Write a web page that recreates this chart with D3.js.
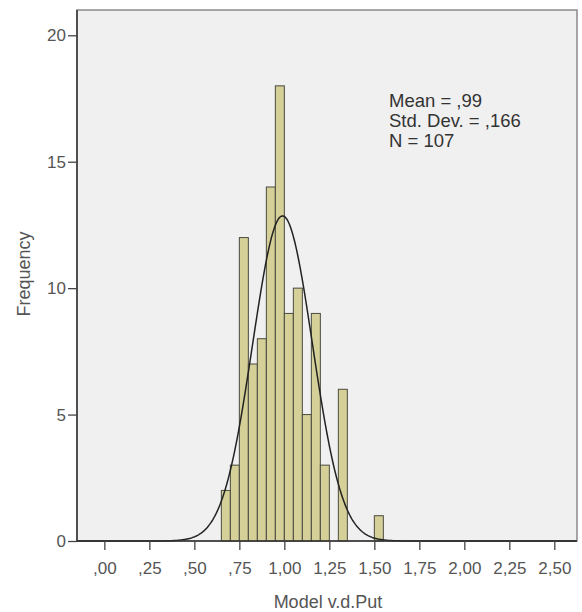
<!DOCTYPE html>
<html lang="en">
<head>
  <meta charset="UTF-8">
  <title>Histogram</title>
  <script src="https://cdn.jsdelivr.net/npm/d3@7"></script>
  <style>
    body { margin: 0; background: #fff; }
    text { font-family: "Liberation Sans", Arial, sans-serif; }
  </style>
</head>
<body>

<script>
  // bins of width 0.05, starting at 0.65
  var binStarts = [0.65, 0.70, 0.75, 0.80, 0.85, 0.90, 0.95, 1.00, 1.05, 1.10, 1.15, 1.20, 1.25, 1.30, 1.35, 1.40, 1.45, 1.50];
  var counts    = [2, 3, 12, 7, 8, 14, 18, 9, 10, 5, 9, 3, 0, 6, 0, 0, 0, 1];
  var binWidth = 0.05;
  var xTicks = [0, 0.25, 0.5, 0.75, 1, 1.25, 1.5, 1.75, 2, 2.25, 2.5];
  var yTicks = [0, 5, 10, 15, 20];
  var mean = 0.99, sd = 0.166, n = 107;
  var statLines = ['Mean = ,99', 'Std. Dev. = ,166', 'N = 107'];

  var width = 582, height = 612;
  // plot frame (note: "top" is reserved on window, so use pTop etc.)
  var pLeft = 77, pRight = 577, pTop = 10, pBottom = 541;

  var svg = d3.select('body').append('svg').attr('width', width).attr('height', height);

  var x = d3.scaleLinear().domain([-0.152, 2.626]).range([pLeft, pRight]);
  var y = d3.scaleLinear().domain([0, 21]).range([pBottom, pTop]);

  // plot background
  svg.append('rect')
    .attr('x', pLeft).attr('y', pTop)
    .attr('width', pRight - pLeft).attr('height', pBottom - pTop)
    .attr('fill', '#f0f0f0')
    .attr('stroke', '#8a8a8a')
    .attr('stroke-width', 1.5);

  var fmt = function(d){
    var s = d3.format('.2f')(d).replace('.', ',');
    return s.indexOf('0,') === 0 ? s.slice(1) : s;
  };

  // bars
  var data = binStarts.map(function(b, i){ return {x0: b, x1: b + binWidth, c: counts[i]}; })
    .filter(function(d){ return d.c > 0; });
  svg.selectAll('rect.bar').data(data).enter().append('rect')
    .attr('class', 'bar')
    .attr('x', function(d){ return x(d.x0); })
    .attr('y', function(d){ return y(d.c); })
    .attr('width', function(d){ return x(d.x1) - x(d.x0); })
    .attr('height', function(d){ return y(0) - y(d.c); })
    .attr('fill', '#d5d097')
    .attr('stroke', '#4a4a40')
    .attr('stroke-width', 1);

  // normal curve
  var pts = d3.range(-0.152, 2.6261, 0.005).map(function(v){
    var z = (v - mean) / sd;
    return [v, n * binWidth * Math.exp(-0.5 * z * z) / (sd * Math.sqrt(2 * Math.PI))];
  });
  svg.append('path')
    .datum(pts)
    .attr('fill', 'none')
    .attr('stroke', '#222')
    .attr('stroke-width', 1.5)
    .attr('d', d3.line().x(function(d){ return x(d[0]); }).y(function(d){ return y(d[1]); }));

  // axes
  var xAxis = svg.append('g')
    .attr('transform', 'translate(0,' + pBottom + ')')
    .call(d3.axisBottom(x).tickValues(xTicks).tickFormat(fmt).tickSize(9).tickPadding(12));
  xAxis.select('.domain').attr('d', 'M' + pLeft + ',0H' + pRight).attr('stroke', '#333').attr('stroke-width', 1.5);

  var yAxis = svg.append('g')
    .attr('transform', 'translate(' + pLeft + ',0)')
    .call(d3.axisLeft(y).tickValues(yTicks).tickSize(9).tickPadding(2));
  yAxis.select('.domain').attr('d', 'M0,' + pTop + 'V' + pBottom).attr('stroke', '#333').attr('stroke-width', 1.5);

  svg.selectAll('.tick line').attr('stroke', '#444').attr('stroke-width', 1.3);
  svg.selectAll('.tick text')
    .attr('fill', '#555')
    .style('font-size', '17px')
    .style('font-family', '"Liberation Sans", Arial, sans-serif');

  // axis titles
  svg.append('text')
    .attr('x', 328).attr('y', 608)
    .attr('text-anchor', 'middle')
    .attr('fill', '#555')
    .style('font-size', '18px')
    .text('Model v.d.Put');

  svg.append('text')
    .attr('transform', 'translate(30,274) rotate(-90)')
    .attr('text-anchor', 'middle')
    .attr('fill', '#555')
    .style('font-size', '18px')
    .text('Frequency');

  // stats box
  svg.selectAll('text.stat').data(statLines).enter().append('text')
    .attr('class', 'stat')
    .attr('x', 389)
    .attr('y', function(d, i){ return 107 + i * 20; })
    .attr('fill', '#333')
    .style('font-size', '18.5px')
    .text(function(d){ return d; });
</script>

</body>
</html>
